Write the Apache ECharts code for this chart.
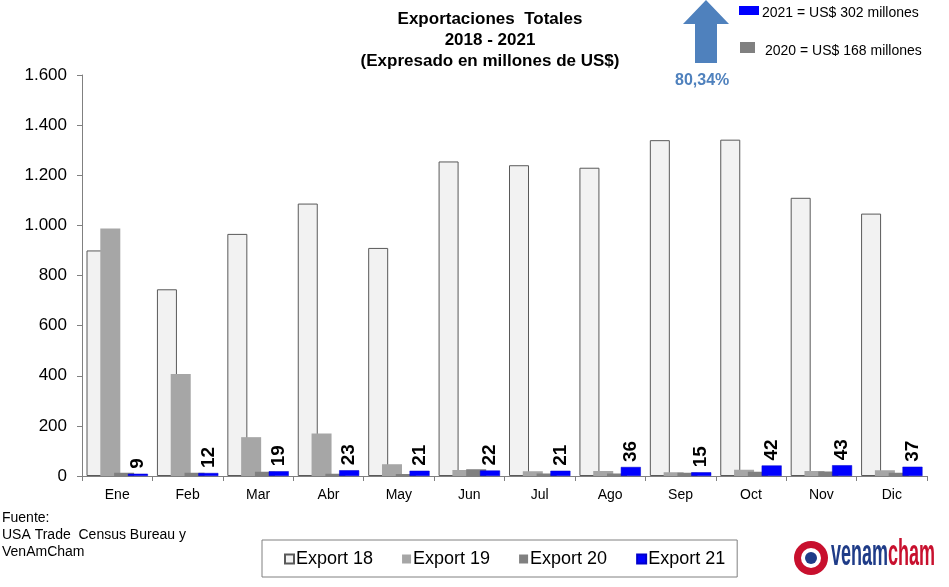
<!DOCTYPE html>
<html><head><meta charset="utf-8">
<script src="https://cdn.jsdelivr.net/npm/echarts@6/dist/echarts.min.js"></script>
<style>html,body{margin:0;padding:0;background:#fff}#c{width:949px;height:587px}</style>
</head><body><div id="c"></div>
<script>
var categories = ['Ene','Feb','Mar','Abr','May','Jun','Jul','Ago','Sep','Oct','Nov','Dic'];
var export18 = [900, 745, 966, 1087, 910, 1255, 1240, 1230, 1340, 1342, 1110, 1047];
var export19 = [988, 407, 155, 170, 47, 24, 19, 20, 15, 25, 20, 23];
var export20 = [13, 13, 17, 9, 8, 27, 10, 10, 13, 17, 18, 13];
var export21 = [9, 12, 19, 23, 21, 22, 21, 36, 15, 42, 43, 37];
var yTicks = [0, 200, 400, 600, 800, 1000, 1200, 1400, 1600];

var F = 'Liberation Sans, Arial, sans-serif';
var chart = echarts.init(document.getElementById('c'));
function fmt(v){ return String(v).replace(/\B(?=(\d{3})+(?!\d))/g, '.'); }

chart.setOption({
  animation: false,
  backgroundColor: '#fff',
  textStyle: {fontFamily: F},
  title: {
    text: 'Exportaciones  Totales\n2018 - 2021\n(Expresado en millones de US$)',
    left: 485, top: 4, textAlign: 'center',
    textStyle: {fontSize: 17, fontWeight: 'bold', color: '#000', lineHeight: 21, fontFamily: F}
  },
  grid: {left: 82, right: 22, top: 75, bottom: 111, containLabel: false},
  legend: {
    left: 262, top: 540, width: 473,
    data: ['Export 18','Export 19','Export 20','Export 21'],
    icon: 'rect', itemWidth: 9, itemHeight: 9, itemGap: 29,
    padding: [10, 12, 9, 22],
    borderColor: '#808080', borderWidth: 1,
    textStyle: {fontSize: 18, color: '#000', fontFamily: F, padding: [0,0,0,-3]}
  },
  xAxis: {
    type: 'category', data: categories,
    axisLine: {lineStyle: {color: '#808080', width: 1}},
    axisTick: {show: true, alignWithLabel: false, length: 5, lineStyle: {color: '#808080'}},
    axisLabel: {fontSize: 14, color: '#000', margin: 12, fontFamily: F},
    splitLine: {show: false}
  },
  yAxis: {
    type: 'value', min: yTicks[0], max: yTicks[yTicks.length-1], interval: 200,
    axisLine: {show: true, lineStyle: {color: '#808080', width: 1}},
    axisTick: {show: true, length: 5, lineStyle: {color: '#808080'}},
    axisLabel: {fontSize: 17, color: '#000', margin: 15, fontFamily: F, formatter: function(v){return fmt(v);}},
    splitLine: {show: false}
  },
  series: [
    {name: 'Export 18', type: 'bar', data: export18, barWidth: 20, barGap: '-31%', barCategoryGap: '13%',
     itemStyle: {color: '#f2f2f2', borderColor: '#595959', borderWidth: 1}},
    {name: 'Export 19', type: 'bar', data: export19, barWidth: 20, barGap: '-31%',
     itemStyle: {color: '#a6a6a6'}},
    {name: 'Export 20', type: 'bar', data: export20, barWidth: 20, barGap: '-31%',
     itemStyle: {color: '#808080'}},
    {name: 'Export 21', type: 'bar', data: export21, barWidth: 20, barGap: '-31%',
     itemStyle: {color: '#0000ff', borderColor: '#0000cc', borderWidth: 0.5},
     label: {show: true, position: 'top', rotate: 90, align: 'left', verticalAlign: 'middle', distance: 5,
             fontSize: 19, fontWeight: 'bold', color: '#000', fontFamily: F}}
  ],
  graphic: [
    {type: 'polygon', shape: {points: [[706,0],[729,24],[717,24],[717,63],[695,63],[695,24],[683,24]]},
     style: {fill: '#4f81bd'}},
    {type: 'text', left: 675, top: 73, style: {text: '80,34%', fontSize: 16, fontWeight: 'bold', fill: '#4f81bd', fontFamily: F}},
    {type: 'rect', shape: {x: 739, y: 6, width: 20, height: 9}, style: {fill: '#0000ff'}},
    {type: 'text', left: 762, top: 6, style: {text: '2021 = US$ 302 millones', fontSize: 14, fill: '#000', fontFamily: F}},
    {type: 'rect', shape: {x: 740, y: 42, width: 15, height: 11}, style: {fill: '#808080'}},
    {type: 'text', left: 765, top: 44, style: {text: '2020 = US$ 168 millones', fontSize: 14, fill: '#000', fontFamily: F}},
    {type: 'text', left: 2, top: 510, style: {text: 'Fuente:\nUSA Trade  Census Bureau y\nVenAmCham', fontSize: 14, lineHeight: 17, fill: '#000', fontFamily: F}},
    {type: 'circle', shape: {cx: 811, cy: 558, r: 17}, style: {fill: '#c8102e'}},
    {type: 'circle', shape: {cx: 811, cy: 558, r: 10}, style: {fill: '#fff'}},
    {type: 'circle', shape: {cx: 811, cy: 558, r: 6}, style: {fill: '#1f3c88'}},
    {type: 'text', x: 831, y: 537, scaleX: 0.5,
     style: {text: '{a|venam}{b|cham}', fontFamily: F,
       rich: {a: {fontSize: 36, fontWeight: 'bold', fill: '#1f3c88', color: '#1f3c88'},
              b: {fontSize: 36, fontWeight: 'bold', fill: '#c8102e', color: '#c8102e'}}}}
  ]
});
</script></body></html>
